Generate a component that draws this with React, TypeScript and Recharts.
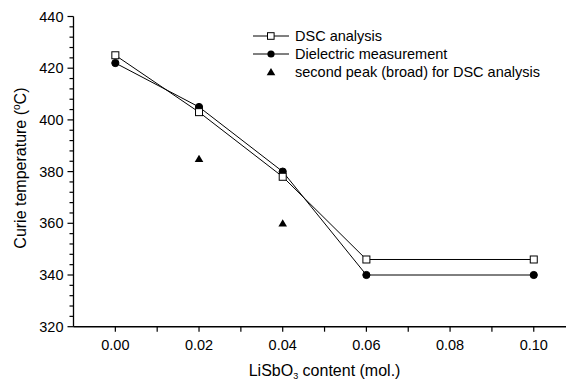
import React from "react";
import { ComposedChart, Line, Scatter, XAxis, YAxis, Legend, Label } from "recharts";

const xValues = [0, 0.02, 0.04, 0.06, 0.1];
const dscValues = [425, 403, 378, 346, 346];
const dielectricValues = [422, 405, 380, 340, 340];
const secondPeakX = [0.02, 0.04];
const secondPeakValues = [385, 360];

const xMajorTicks = [0, 0.02, 0.04, 0.06, 0.08, 0.1];
const xMinorTicks = [0.01, 0.03, 0.05, 0.07, 0.09];
const yMajorTicks = [320, 340, 360, 380, 400, 420, 440];
const topTicks = [1, 2, 3, 4, 5, 6, 7, 8, 9];

const seriesNames = ["DSC analysis", "Dielectric measurement", "second peak (broad) for DSC analysis"];

const dscData = xValues.map((x, i) => ({ x, y: dscValues[i] }));
const dielectricData = xValues.map((x, i) => ({ x, y: dielectricValues[i] }));
const secondPeakData = secondPeakX.map((x, i) => ({ x, y: secondPeakValues[i] }));

const xTicks = [...xMajorTicks, ...xMinorTicks].sort((a, b) => a - b);
const yTicks: number[] = [];
for (let v = 320; v <= 440; v += 4) yTicks.push(v);

const FONT = "'Liberation Sans', Arial, Helvetica, sans-serif";

const isIn = (v: number, arr: number[]) => arr.some((a) => Math.abs(a - v) < 1e-9);

const YTick = (props: any) => {
  const { x, y, payload } = props;
  const major = isIn(payload.value, yMajorTicks);
  return (
    <g>
      <line x1={x - (major ? 6 : 4)} x2={x} y1={y} y2={y} stroke="#000" strokeWidth={1.2} />
      {major && (
        <text x={x - 10} y={y} dy={5} textAnchor="end" fontSize={14.5} fill="#000" fontFamily={FONT}>
          {payload.value}
        </text>
      )}
    </g>
  );
};

const XTick = (props: any) => {
  const { x, y, payload } = props;
  const major = isIn(payload.value, xMajorTicks);
  return (
    <g>
      <line x1={x} x2={x} y1={y} y2={y + 5} stroke="#000" strokeWidth={1.2} />
      {major && (
        <text x={x} y={y + 23} textAnchor="middle" fontSize={14.5} fill="#000" fontFamily={FONT}>
          {payload.value.toFixed(2)}
        </text>
      )}
    </g>
  );
};

const TopTick = (props: any) => {
  const { x, y } = props;
  return <line x1={x} x2={x} y1={y} y2={y + 2} stroke="#333" strokeWidth={1.2} />;
};

const SquareDot = (props: any) => {
  const { cx, cy, index } = props;
  if (cx == null || cy == null) return <g key={`s-${index}`} />;
  return <rect key={`s-${index}`} x={cx - 3.5} y={cy - 3.5} width={7} height={7} fill="#fff" stroke="#000" strokeWidth={1} />;
};

const CircleDot = (props: any) => {
  const { cx, cy, index } = props;
  if (cx == null || cy == null) return <g key={`c-${index}`} />;
  return <circle key={`c-${index}`} cx={cx} cy={cy} r={3.6} fill="#000" stroke="#000" />;
};

const Triangle = (props: any) => {
  const { cx, cy } = props;
  return <polygon points={`${cx},${cy - 4} ${cx - 4.3},${cy + 3.3} ${cx + 4.3},${cy + 3.3}`} fill="#000" />;
};

const YLabelContent = (props: any) => {
  const vb = props.viewBox || { x: 0, y: 16, width: 73, height: 310 };
  const cx = 26.5;
  const cy = vb.y + vb.height / 2 - 3.5;
  return (
    <text x={cx} y={cy} transform={`rotate(-90, ${cx}, ${cy})`} textAnchor="middle" fontSize={16} fill="#000" fontFamily={FONT}>
      Curie temperature (
      <tspan dy={-6} fontSize={10}>o</tspan>
      <tspan dy={6}>C)</tspan>
    </text>
  );
};

const XLabelContent = (props: any) => {
  const vb = props.viewBox || { x: 73, y: 327, width: 502, height: 30 };
  const cx = vb.x + vb.width / 2;
  return (
    <text x={cx} y={375.5} textAnchor="middle" fontSize={16} fill="#000" fontFamily={FONT}>
      LiSbO
      <tspan dy={3} fontSize={9}>3</tspan>
      <tspan dy={-3}> content (mol.)</tspan>
    </text>
  );
};

const LegendContent = () => {
  const rowY = [10, 28, 46];
  return (
    <svg width={320} height={60} style={{ overflow: "visible" }}>
      {seriesNames.map((name, i) => (
        <g key={name}>
          {i < 2 && <line x1={3} x2={39} y1={rowY[i]} y2={rowY[i]} stroke="#000" strokeWidth={1} />}
          {i === 0 && <rect x={17.5} y={rowY[i] - 3.3} width={6.6} height={6.6} fill="#fff" stroke="#000" />}
          {i === 1 && <circle cx={21} cy={rowY[i]} r={3.6} fill="#000" />}
          {i === 2 && <Triangle cx={21} cy={rowY[i]} />}
          <text x={45} y={rowY[i]} dy={5} fontSize={14.5} fill="#000" fontFamily={FONT}>
            {name}
          </text>
        </g>
      ))}
    </svg>
  );
};

export default function App() {
  return (
    <div style={{ position: "absolute", left: 0, top: 0, width: 566, height: 380, overflow: "hidden", background: "#fff" }}>
      <ComposedChart
        width={600}
        height={380}
        margin={{ top: 16.5, right: 24.4, bottom: 23.3, left: 0 }}
        style={{ fontFamily: FONT }}
      >
        <XAxis
          xAxisId="main"
          dataKey="x"
          type="number"
          domain={[-0.01, 0.11]}
          ticks={xTicks}
          interval={0}
          allowDataOverflow
          height={30}
          tickSize={0}
          tickMargin={0}
          tickLine={false}
          tick={<XTick />}
          axisLine={{ stroke: "#000", strokeWidth: 1.5 }}
        >
          <Label content={<XLabelContent />} />
        </XAxis>
        <XAxis
          xAxisId="top"
          orientation="top"
          type="number"
          domain={[0, 10]}
          ticks={topTicks}
          interval={0}
          allowDataOverflow
          height={0}
          tickSize={0}
          tickMargin={0}
          tickLine={false}
          tick={<TopTick />}
          axisLine={{ stroke: "#444", strokeWidth: 1.3 }}
        />
        <YAxis
          yAxisId="main"
          dataKey="y"
          type="number"
          domain={[320, 440]}
          ticks={yTicks}
          interval={0}
          allowDataOverflow
          width={73.5}
          tickSize={0}
          tickMargin={0}
          tickLine={false}
          tick={<YTick />}
          axisLine={{ stroke: "#000", strokeWidth: 1.3 }}
        >
          <Label content={<YLabelContent />} />
        </YAxis>
        <Legend
          layout="vertical"
          align="center"
          verticalAlign="middle"
          content={<LegendContent />}
          wrapperStyle={{ left: 250, top: 26, width: 320, height: 60 }}
        />
        <Line
          xAxisId="main"
          yAxisId="main"
          data={dielectricData}
          dataKey="y"
          name={seriesNames[1]}
          stroke="#000"
          strokeWidth={1}
          dot={(p: any) => <CircleDot {...p} key={`c-${p.index}`} />}
          activeDot={false}
          isAnimationActive={false}
        />
        <Line
          xAxisId="main"
          yAxisId="main"
          data={dscData}
          dataKey="y"
          name={seriesNames[0]}
          stroke="#000"
          strokeWidth={1}
          dot={(p: any) => <SquareDot {...p} key={`s-${p.index}`} />}
          activeDot={false}
          isAnimationActive={false}
        />
        <Scatter
          xAxisId="main"
          yAxisId="main"
          data={secondPeakData}
          dataKey="y"
          name={seriesNames[2]}
          fill="#000"
          shape={<Triangle />}
          isAnimationActive={false}
        />
      </ComposedChart>
    </div>
  );
}
